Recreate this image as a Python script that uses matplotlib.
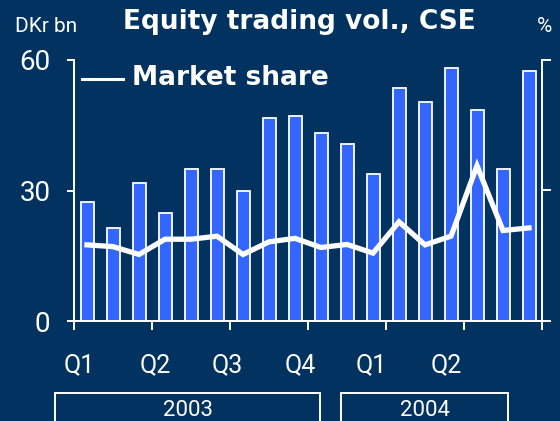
import numpy as np
import matplotlib
matplotlib.use("Agg")
import matplotlib.pyplot as plt
from matplotlib.patches import Rectangle

# monthly equity trading volume (DKr bn) and CSE market share (%), Jan 2003 - Jun 2004
volume = [27.4, 21.4, 31.8, 24.8, 34.9, 34.9, 29.8, 46.6, 47.1,
          43.3, 40.7, 33.7, 53.6, 50.4, 58.1, 48.5, 34.9, 57.5]
share = [17.5, 17.1, 15.3, 18.8, 18.8, 19.5, 15.3, 18.2, 19.0,
         16.9, 17.6, 15.6, 22.8, 17.5, 19.5, 35.7, 20.8, 21.4]
quarters = ["Q1", "Q2", "Q3", "Q4", "Q1", "Q2"]
years = ["2003", "2004"]
yticks = [0, 30, 60]

BG = "#02325f"
BAR = "#3366ff"
FG = "white"
HEAD = ["DejaVu Sans"]

plt.rcParams["font.family"] = ["Roboto", "DejaVu Sans"]

fig = plt.figure(figsize=(5.6, 4.21), dpi=100, facecolor=BG)
ax = fig.add_axes([74 / 560, 1 - 321 / 421, 468 / 560, 261 / 421])
ax.set_facecolor(BG)

x = np.arange(len(volume)) + 0.5
ax.bar(x, volume, width=0.5, color=BAR, edgecolor=FG, linewidth=1.3, zorder=2)

# market share on its own % axis, same 0-60 range
ax2 = ax.twinx()
ax2.plot(x, share, color=FG, lw=3.8, solid_joinstyle="miter", zorder=3)

for a in (ax, ax2):
    a.set_xlim(0, len(volume))
    a.set_ylim(0, 60)
    a.set_yticks(yticks)
    for s in a.spines.values():
        s.set_color(FG)
        s.set_linewidth(1.4)
    a.spines["top"].set_visible(False)

ax.set_xticks(np.arange(0, len(volume) + 1, 3))
ax.set_xticklabels([])
ax.tick_params(axis="x", colors=FG, length=6.5, width=1.4, direction="out")
ax.tick_params(axis="y", colors=FG, length=5, width=1.4, pad=12,
               labelsize=20)
ax2.tick_params(axis="y", colors=FG, length=6.5, width=1.4, labelright=False)

# quarter labels under the axis
qpos = [0.19, 3.12, 5.88, 8.69, 11.42, 14.31]
for q, p in zip(quarters, qpos):
    ax.text(p, -0.168, q, transform=ax.get_xaxis_transform(), ha="center",
            va="center", color=FG, fontsize=18)

# year boxes
boxes = [(55, 320), (341, 508)]
for yr, (x0, x1) in zip(years, boxes):
    fig.patches.append(Rectangle((x0 / 560, -0.05), (x1 - x0) / 560,
                                 0.05 + (421 - 393) / 421, transform=fig.transFigure,
                                 fill=False, edgecolor=FG, linewidth=1.4))
    fig.text((x0 + x1) / 2 / 560, 1 - 410 / 421, yr, ha="center", va="center",
             color=FG, fontsize=16)

# titles
fig.text(299 / 560, 1 - 29 / 421, "Equity trading vol., CSE", ha="center",
         va="baseline", color=FG, fontsize=19, fontweight="bold", family=HEAD)
fig.text(15 / 560, 1 - 32 / 421, "DKr bn", ha="left", va="baseline",
         color=FG, fontsize=15)
fig.text(552 / 560, 1 - 32 / 421, "%", ha="right", va="baseline",
         color=FG, fontsize=15)

# legend
fig.add_artist(plt.Line2D([82 / 560, 123 / 560], [1 - 79 / 421, 1 - 79 / 421],
                          transform=fig.transFigure, color=FG, lw=2.2))
fig.text(132 / 560, 1 - 85 / 421, "Market share", ha="left", va="baseline",
         color=FG, fontsize=19, fontweight="bold", family=HEAD)

fig.savefig("out.png", dpi=100, facecolor=BG)
